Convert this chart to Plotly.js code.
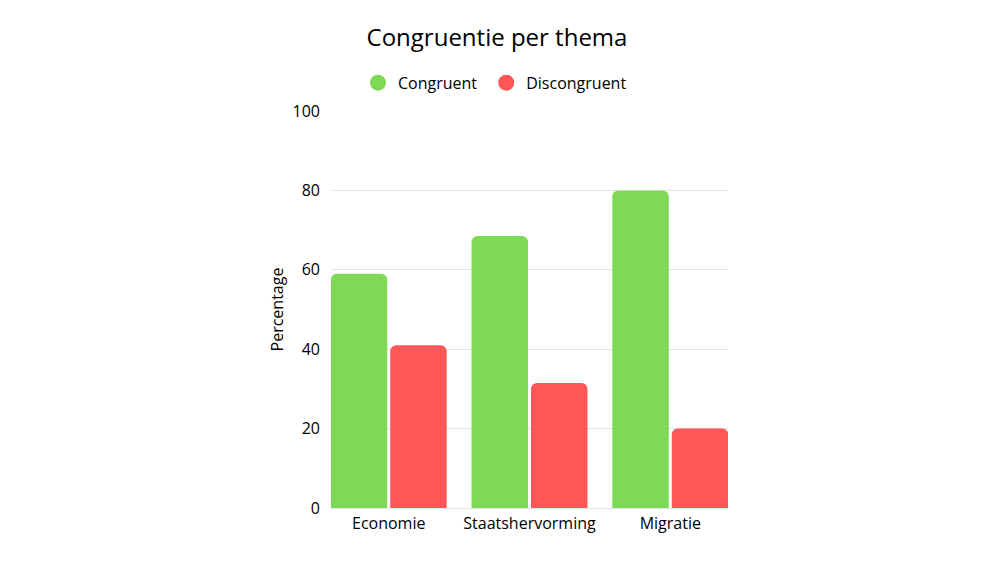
<!DOCTYPE html>
<html>
<head>
<meta charset="utf-8">
<script src="https://cdn.plot.ly/plotly-3.0.1.min.js"></script>
<style>
  html, body { margin: 0; padding: 0; background: #ffffff; }
  #chart { width: 1000px; height: 563px; }
</style>
</head>
<body>
<div id="chart"></div>
<script>
var themes = ["Economie", "Staatshervorming", "Migratie"];
var congruent = [59, 68.5, 80];
var discongruent = [41, 31.5, 20];
var seriesNames = ["Congruent", "Discongruent"];
var greenColor = "#7ED957";
var redColor = "#FF5757";

var fontFamily = "'Open Sans', 'Noto Sans', sans-serif";

var barGreen = {
    x: themes, y: congruent,
    type: "bar",
    name: seriesNames[0],
    marker: {color: greenColor},
    showlegend: false,
    hoverinfo: "x+y"
};
var barRed = {
    x: themes, y: discongruent,
    type: "bar",
    name: seriesNames[1],
    marker: {color: redColor},
    showlegend: false,
    hoverinfo: "x+y"
};

// legend-only dots, so the legend shows circles like the original
function legendDot(name, color) {
    return {
        x: [null], y: [null],
        type: "scatter",
        mode: "markers",
        name: name,
        marker: {color: color, size: 16, symbol: "circle"},
        hoverinfo: "skip"
    };
}

// a non-breaking space after the first name widens the gap between the two entries
var data = [barGreen, barRed,
    legendDot(seriesNames[0] + "\u00a0", greenColor),
    legendDot(seriesNames[1], redColor)];

var layout = {
    width: 1000,
    height: 563,
    paper_bgcolor: "#ffffff",
    plot_bgcolor: "#ffffff",
    font: {family: fontFamily, color: "#000000", size: 16},
    margin: {l: 331, r: 272, t: 111, b: 55},
    title: {
        text: "Congruentie per thema",
        font: {family: fontFamily, size: 24, color: "#000000"},
        xref: "container", x: 0.497, xanchor: "center",
        yref: "container", y: 0.933, yanchor: "middle"
    },
    showlegend: true,
    legend: {
        orientation: "h",
        xref: "container", x: 0.358, xanchor: "left",
        yref: "container", y: 0.853, yanchor: "middle",
        font: {family: fontFamily, size: 16, color: "#000000"},
        itemclick: false, itemdoubleclick: false
    },
    barmode: "group",
    bargap: 0.155,
    bargroupgap: 0.05,
    barcornerradius: 6,
    xaxis: {
        type: "category",
        range: [-0.41, 2.41],
        showgrid: false,
        showline: false,
        zeroline: false,
        ticks: "",
        ticklabelstandoff: 4,
        tickfont: {family: fontFamily, size: 16, color: "#000000"},
        fixedrange: true
    },
    yaxis: {
        range: [0, 100],
        tickvals: [0, 20, 40, 60, 80, 100],
        showgrid: true,
        gridcolor: "#e2e2e2",
        gridwidth: 1,
        zeroline: true,
        zerolinecolor: "#e2e2e2",
        showline: false,
        ticks: "",
        ticklabelstandoff: 10,
        tickfont: {family: fontFamily, size: 16, color: "#000000"},
        title: {text: "Percentage", font: {family: fontFamily, size: 16, color: "#000000"}, standoff: 4},
        fixedrange: true
    }
};

Plotly.newPlot("chart", data, layout, {displayModeBar: false, staticPlot: true});
</script>
</body>
</html>
